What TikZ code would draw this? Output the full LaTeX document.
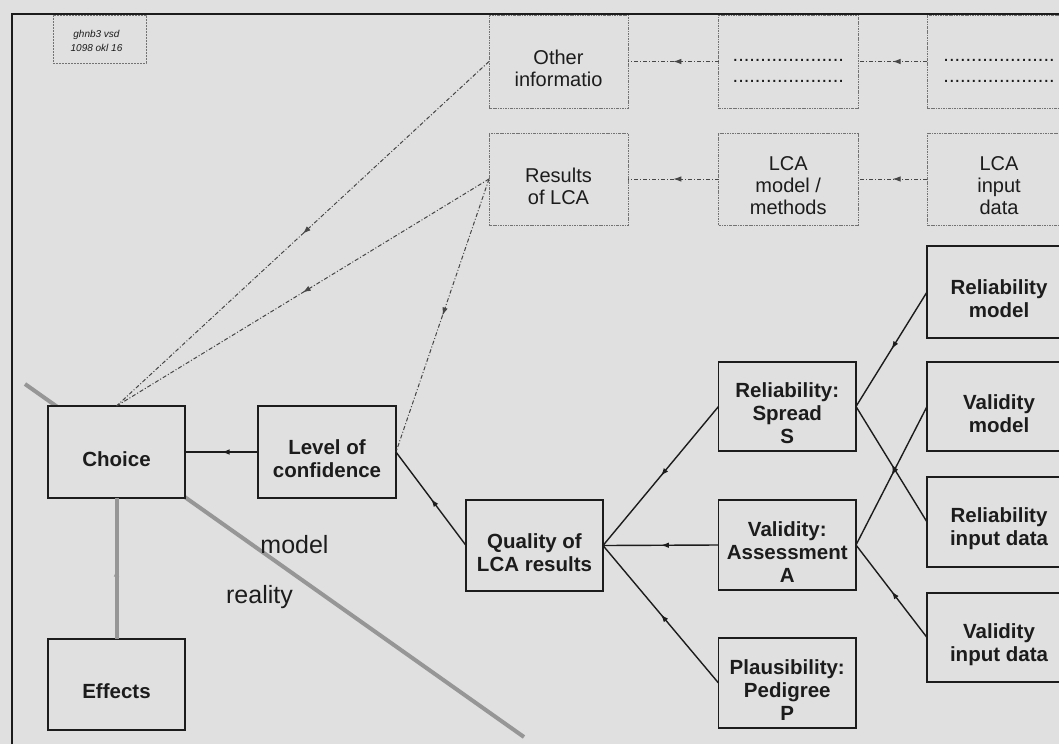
\documentclass[tikz,border=0pt]{standalone}
\usepackage{fontspec}
\setmainfont{Liberation Sans}
\usetikzlibrary{arrows.meta,decorations.markings}
\definecolor{bg}{RGB}{224,224,224}
\definecolor{ink}{RGB}{28,28,28}
\definecolor{thickgray}{RGB}{150,150,150}
\definecolor{dashink}{RGB}{70,70,70}
\begin{document}
\begin{tikzpicture}[x=1pt,y=-1pt,
  solidbox/.style={draw=ink, line width=1.8pt, fill=bg, minimum width=137.5pt, minimum height=90pt, inner sep=0pt, outer sep=0pt},
  dashbox/.style={draw=black!55, line width=0.7pt, dash pattern=on 2.5pt off 1pt on 0.8pt off 1pt, fill=bg, minimum width=139pt, minimum height=92pt, inner sep=0pt, outer sep=0pt},
  bl/.style={font=\fontsize{20.5}{23}\bfseries\selectfont, align=center, text=ink, yshift=-7pt, inner sep=0pt},
  rl/.style={font=\fontsize{20}{22}\selectfont, align=center, text=ink, yshift=-7pt, inner sep=0pt},
  dl/.style={font=\fontsize{20}{21}\selectfont, align=center, text=ink, yshift=-9pt, inner sep=0pt},
  btext/.style={label={[bl]center:#1}},
  rtext/.style={label={[rl]center:#1}},
  dtext/.style={label={[dl]center:#1}},
  midarrow/.style={postaction={decorate}, decoration={markings, mark=at position 0.5 with {\arrow{Latex[length=8pt,width=5.5pt]}}}},
  solidcon/.style={draw=ink, line width=1.4pt, midarrow},
  dashcon/.style={draw=dashink, line width=1pt, dash pattern=on 4pt off 2pt on 1pt off 2pt, midarrow},
  graycon/.style={draw=thickgray, line width=4pt, midarrow}
]
\useasboundingbox (0,0) rectangle (1059,744);
\fill[bg] (0,0) rectangle (1059,744);
\clip (0,0) rectangle (1059,744);

% frame
\draw[ink, line width=2pt] (12,744) -- (12,13.5) -- (1059,13.5);

% model / reality divider
\draw[thickgray, line width=4pt] (25,384) -- (524,737);
\node[font=\fontsize{25}{25}\selectfont, text=ink, inner sep=0pt] (modellbl) at (294.5,545) {model};
\node[font=\fontsize{25}{25}\selectfont, text=ink, inner sep=0pt] (realitylbl) at (259.5,597) {reality};

% file tag
\node[draw=black!55, line width=0.6pt, dash pattern=on 2pt off 1pt, fill=bg, minimum width=93pt, minimum height=48pt, inner sep=0pt,
  label={[font=\fontsize{10}{13.5}\itshape\selectfont, align=center, text=ink, yshift=-2pt, xshift=-3pt, inner sep=0pt]center:ghnb3 vsd\\1098 okl 16}] (tag) at (99.5,39) {};

% dashed boxes
\node[dashbox, minimum height=93pt, rtext={Other\\informatio}] (other) at (558.5,61.5) {};
\node[dashbox, minimum height=93pt, minimum width=139.5pt, dtext={....................\\....................}] (dotsA) at (788.25,61.5) {};
\node[dashbox, minimum height=93pt, minimum width=144pt, dtext={....................\\....................}] (dotsB) at (999,61.5) {};
\node[dashbox, rtext={Results\\of LCA}] (results) at (558.5,179) {};
\node[dashbox, minimum width=139.5pt, rtext={LCA\\model /\\methods}] (lcamodel) at (788.25,179) {};
\node[dashbox, minimum width=144pt, rtext={LCA\\input\\data}] (lcainput) at (999,179) {};

% solid boxes
\node[solidbox, minimum width=144pt, minimum height=92pt, btext={Reliability\\model}] (relmodel) at (999,292) {};
\node[solidbox, minimum width=144pt, minimum height=89pt, btext={Validity\\model}] (valmodel) at (999,406.5) {};
\node[solidbox, minimum width=144pt, btext={Reliability\\input data}] (relinput) at (999,522) {};
\node[solidbox, minimum width=144pt, minimum height=89pt, btext={Validity\\input data}] (valinput) at (999,637.5) {};
\node[solidbox, minimum height=89pt, btext={Reliability:\\Spread\\S}] (spread) at (787.25,406.5) {};
\node[solidbox, btext={Validity:\\Assessment\\A}] (assess) at (787.25,545) {};
\node[solidbox, btext={Plausibility:\\Pedigree\\P}] (pedigree) at (787.25,683) {};
\node[solidbox, minimum width=137pt, minimum height=91pt, btext={Quality of\\LCA results}] (quality) at (534.5,545.5) {};
\node[solidbox, minimum width=138pt, minimum height=92pt, btext={Level of\\confidence}] (level) at (327,452) {};
\node[solidbox, minimum width=137pt, minimum height=92pt, btext={Choice}] (choice) at (116.5,452) {};
\node[solidbox, minimum width=137pt, minimum height=91pt, btext={Effects}] (effects) at (116.5,684.5) {};

% dashed connectors
\draw[dashcon] (dotsA.west) -- (other.east);
\draw[dashcon] (dotsB.west) -- (dotsA.east);
\draw[dashcon] (lcamodel.west) -- (results.east);
\draw[dashcon] (lcainput.west) -- (lcamodel.east);
\draw[dashcon] (other.west) -- (choice.north);
\draw[dashcon] (results.west) -- (choice.north);
\draw[dashcon] (results.west) -- (level.east);

% solid connectors
\draw[solidcon] (relmodel.west) -- (spread.east);
\draw[solidcon] (relinput.west) -- (spread.east);
\draw[solidcon] (valmodel.west) -- (assess.east);
\draw[solidcon] (valinput.west) -- (assess.east);
\draw[solidcon] (spread.west) -- (quality.east);
\draw[solidcon] (assess.west) -- (quality.east);
\draw[solidcon] (pedigree.west) -- (quality.east);
\draw[solidcon] (quality.west) -- (level.east);
\draw[solidcon] (level.west) -- (choice.east);
\draw[graycon] (effects.north) -- (choice.south);
\end{tikzpicture}
\end{document}
